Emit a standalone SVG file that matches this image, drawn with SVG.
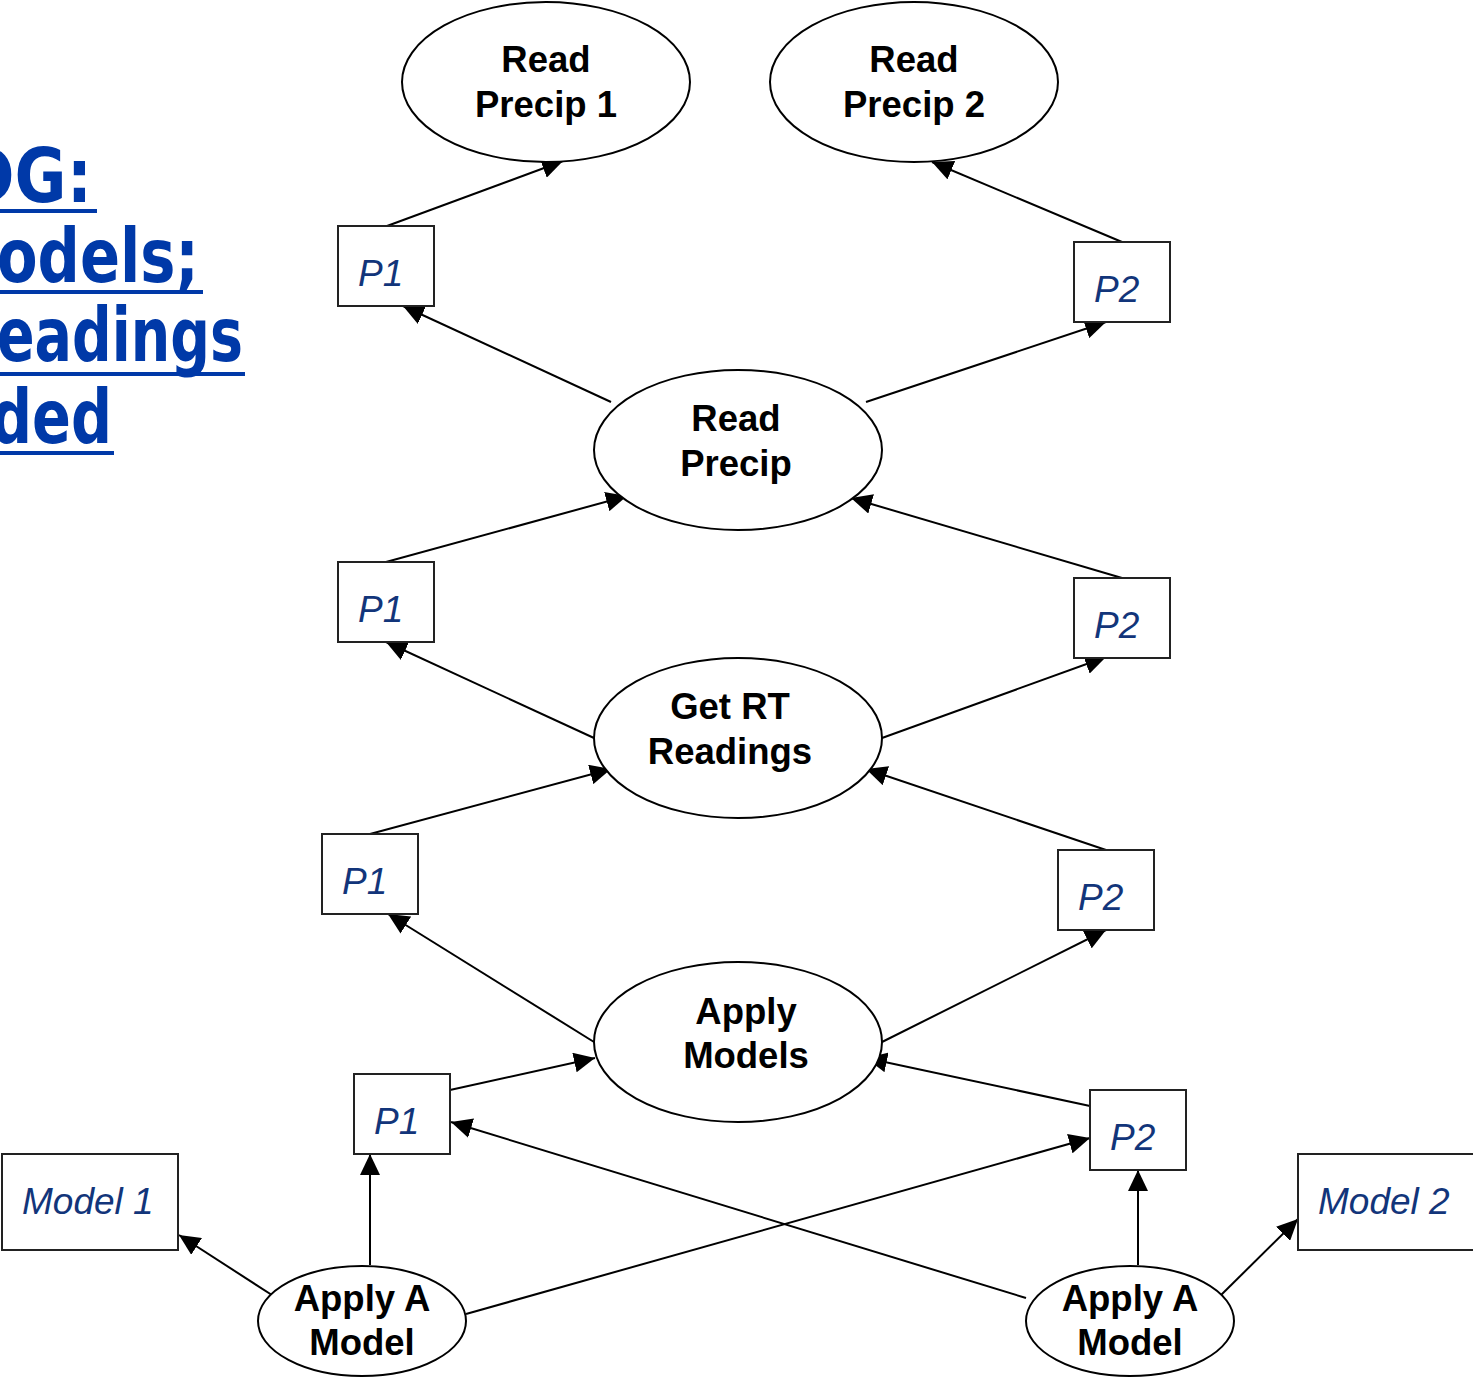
<svg xmlns="http://www.w3.org/2000/svg" width="1473" height="1377" viewBox="0 0 1473 1377">
  <style>
    .edge { stroke: #000; stroke-width: 2; fill: none; marker-end: url(#arrow); }
    .oval { fill: #fff; stroke: #000; stroke-width: 2; }
    .box { fill: #fff; stroke: #222; stroke-width: 2; }
    .task { font-family: "Liberation Sans", Arial, sans-serif; font-weight: bold; font-size: 36.5px; fill: #000; text-anchor: middle; }
    .port { font-family: "Liberation Sans", Arial, sans-serif; font-style: italic; font-size: 37px; fill: #12357a; }
    .note { font-family: "Comic Sans MS", "DejaVu Sans", sans-serif; font-weight: bold; font-size: 75px; fill: #0039a8; }
    .rule { fill: #0039a8; }
  </style>
  <defs>
    <marker id="arrow" markerUnits="userSpaceOnUse" markerWidth="22" markerHeight="20" refX="21" refY="10" orient="auto">
      <path d="M0,0 L21,10 L0,20 z" fill="#000"/>
    </marker>
  </defs>
  <rect width="1473" height="1377" fill="#fff"/>

  <!-- side caption, running off the left edge -->
  <g id="caption">
    <text class="note" x="-38" y="202" textLength="130" lengthAdjust="spacingAndGlyphs">DG:</text>
    <text class="note" x="-3" y="282" textLength="202" lengthAdjust="spacingAndGlyphs">odels;</text>
    <text class="note" x="-3" y="361" textLength="246" lengthAdjust="spacingAndGlyphs">eadings</text>
    <text class="note" x="-9" y="443" textLength="121" lengthAdjust="spacingAndGlyphs">ded</text>
    <rect class="rule" x="0" y="209" width="97" height="4"/>
    <rect class="rule" x="0" y="290" width="203" height="4"/>
    <rect class="rule" x="0" y="372" width="245" height="4"/>
    <rect class="rule" x="0" y="451" width="114" height="4"/>
  </g>

  <!-- connectors (drawn under the nodes) -->
  <g id="connectors">
    <line class="edge" x1="387" y1="226" x2="563" y2="161"/>
    <line class="edge" x1="1122" y1="242" x2="932" y2="162"/>
    <line class="edge" x1="611" y1="402" x2="403" y2="306"/>
    <line class="edge" x1="866" y1="402" x2="1106" y2="322"/>
    <line class="edge" x1="386" y1="562" x2="627" y2="496"/>
    <line class="edge" x1="1122" y1="578" x2="851" y2="498"/>
    <line class="edge" x1="594" y1="738" x2="386" y2="642"/>
    <line class="edge" x1="882" y1="738" x2="1106" y2="657"/>
    <line class="edge" x1="370" y1="834" x2="611" y2="769"/>
    <line class="edge" x1="1106" y1="850" x2="866" y2="769"/>
    <line class="edge" x1="594" y1="1042" x2="388" y2="914"/>
    <line class="edge" x1="882" y1="1042" x2="1106" y2="930"/>
    <line class="edge" x1="450" y1="1090" x2="595" y2="1058"/>
    <line class="edge" x1="1090" y1="1106" x2="866" y2="1058"/>
    <line class="edge" x1="370" y1="1265" x2="370" y2="1154"/>
    <line class="edge" x1="466" y1="1314" x2="1090" y2="1138"/>
    <line class="edge" x1="1026" y1="1298" x2="451" y2="1122"/>
    <line class="edge" x1="1138" y1="1265" x2="1138" y2="1170"/>
    <line class="edge" x1="275" y1="1297" x2="179" y2="1235"/>
    <line class="edge" x1="1218" y1="1298" x2="1298" y2="1219"/>
  </g>

  <!-- task ovals -->
  <g id="read-precip-1">
    <ellipse class="oval" cx="546" cy="82" rx="144" ry="80"/>
    <text class="task" x="546" y="72">Read</text>
    <text class="task" x="546" y="117">Precip 1</text>
  </g>
  <g id="read-precip-2">
    <ellipse class="oval" cx="914" cy="82" rx="144" ry="80"/>
    <text class="task" x="914" y="72">Read</text>
    <text class="task" x="914" y="117">Precip 2</text>
  </g>
  <g id="read-precip">
    <ellipse class="oval" cx="738" cy="450" rx="144" ry="80"/>
    <text class="task" x="736" y="431">Read</text>
    <text class="task" x="736" y="476">Precip</text>
  </g>
  <g id="get-rt-readings">
    <ellipse class="oval" cx="738" cy="738" rx="144" ry="80"/>
    <text class="task" x="730" y="719">Get RT</text>
    <text class="task" x="730" y="764">Readings</text>
  </g>
  <g id="apply-models">
    <ellipse class="oval" cx="738" cy="1042" rx="144" ry="80"/>
    <text class="task" x="746" y="1024">Apply</text>
    <text class="task" x="746" y="1068">Models</text>
  </g>
  <g id="apply-a-model-1">
    <ellipse class="oval" cx="362" cy="1321" rx="104" ry="55"/>
    <text class="task" x="362" y="1311">Apply A</text>
    <text class="task" x="362" y="1355">Model</text>
  </g>
  <g id="apply-a-model-2">
    <ellipse class="oval" cx="1130" cy="1321" rx="104" ry="55"/>
    <text class="task" x="1130" y="1311">Apply A</text>
    <text class="task" x="1130" y="1355">Model</text>
  </g>

  <!-- data ports -->
  <g id="p1-a">
    <rect class="box" x="338" y="226" width="96" height="80"/>
    <text class="port" x="358" y="286">P1</text>
  </g>
  <g id="p2-a">
    <rect class="box" x="1074" y="242" width="96" height="80"/>
    <text class="port" x="1094" y="302">P2</text>
  </g>
  <g id="p1-b">
    <rect class="box" x="338" y="562" width="96" height="80"/>
    <text class="port" x="358" y="622">P1</text>
  </g>
  <g id="p2-b">
    <rect class="box" x="1074" y="578" width="96" height="80"/>
    <text class="port" x="1094" y="638">P2</text>
  </g>
  <g id="p1-c">
    <rect class="box" x="322" y="834" width="96" height="80"/>
    <text class="port" x="342" y="894">P1</text>
  </g>
  <g id="p2-c">
    <rect class="box" x="1058" y="850" width="96" height="80"/>
    <text class="port" x="1078" y="910">P2</text>
  </g>
  <g id="p1-d">
    <rect class="box" x="354" y="1074" width="96" height="80"/>
    <text class="port" x="374" y="1134">P1</text>
  </g>
  <g id="p2-d">
    <rect class="box" x="1090" y="1090" width="96" height="80"/>
    <text class="port" x="1110" y="1150">P2</text>
  </g>
  <g id="model-1">
    <rect class="box" x="2" y="1154" width="176" height="96"/>
    <text class="port" x="22" y="1214">Model 1</text>
  </g>
  <g id="model-2">
    <rect class="box" x="1298" y="1154" width="176" height="96"/>
    <text class="port" x="1318" y="1214">Model 2</text>
  </g>
</svg>
